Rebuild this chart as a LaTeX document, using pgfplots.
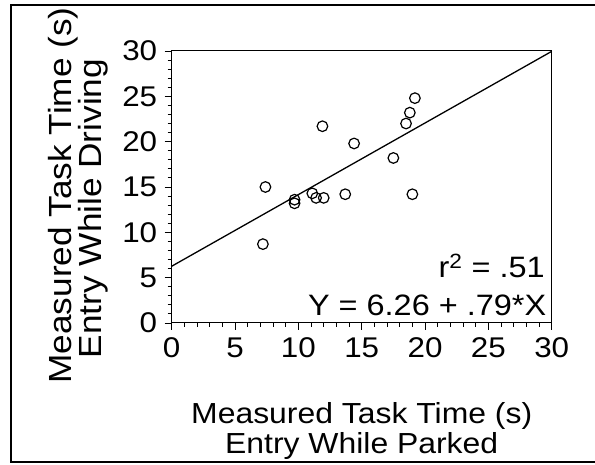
\documentclass[border=0pt]{standalone}
\usepackage{fontspec}
\setmainfont{Liberation Sans}[FakeStretch=1.1]
\usepackage{pgfplots}
\pgfplotsset{compat=1.18}

% Task times (s): entry while parked (x) vs. entry while driving (y)
\pgfplotstableread{
parked driving
7.4  15.0
7.2  8.7
9.7  13.6
9.7  13.2
11.1 14.3
11.4 13.8
12.0 13.8
11.9 21.7
13.7 14.2
14.4 19.8
17.5 18.2
18.5 22.0
18.8 23.2
19.2 24.8
19.0 14.2
}\tasktimes

\begin{document}
\begin{tikzpicture}[x=1bp,y=1bp]
\useasboundingbox (0,0) rectangle (595,465);
% panel frame
\draw[line width=2bp] (595,460) -- (11,460) -- (11,3) -- (595,3);
\begin{axis}[
  at={(171.7bp,142bp)}, anchor=south west,
  scale only axis, width=380bp, height=272bp,
  xmin=0, xmax=30, ymin=0, ymax=30,
  xtick={0,5,...,30}, ytick={0,5,...,30},
  minor tick num=4,
  tick align=outside, xtick pos=left, ytick pos=left,
  major tick length=7bp, minor tick length=4bp,
  axis line style={line width=1bp},
  every tick/.style={black, line width=0.9bp},
  /pgf/number format/assume math mode=true,
  every tick label/.append style={font=\fontsize{28.5bp}{32bp}\selectfont},
  xticklabel style={yshift=-4bp},
  yticklabel style={xshift=-4bp},
  xlabel={Measured Task Time (s)\\Entry While Parked},
  ylabel={Measured Task Time (s)\\Entry While Driving\hspace*{26bp}},
  xlabel style={at={(axis description cs:0.5,-0.2926)}, anchor=north,
    inner sep=0pt, align=center, font=\fontsize{29bp}{30bp}\selectfont},
  ylabel style={at={(axis description cs:-0.1668,0.4688)}, anchor=south,
    inner sep=0pt, align=center, font=\fontsize{32bp}{30bp}\selectfont},
  clip=false,
]
\addplot[only marks, mark=o, mark size=5.3bp, mark options={line width=1.2bp, black}]
  table[x=parked, y=driving] {\tasktimes};
% least-squares fit: Y = 6.26 + .79*X
\addplot[black, line width=1.3bp] coordinates {(0,6.26) (30,29.96)};
\node[anchor=base east, inner sep=0pt, font=\fontsize{29.5bp}{34bp}\selectfont]
  at (rel axis cs:0.982,0.169) {r\textsuperscript{2} = .51};
\node[anchor=base east, inner sep=0pt, font=\fontsize{29.5bp}{34bp}\selectfont]
  at (rel axis cs:0.986,0.029) {Y = 6.26 + .79*X};
\end{axis}
\end{tikzpicture}
\end{document}
